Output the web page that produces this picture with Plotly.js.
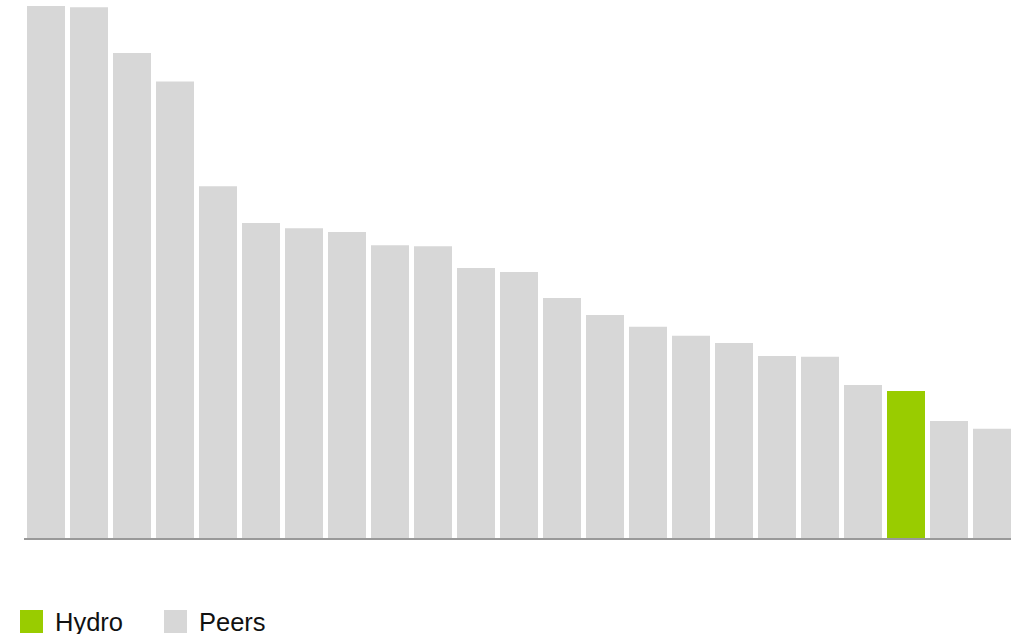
<!DOCTYPE html>
<html>
<head>
<meta charset="utf-8">
<script src="https://cdn.plot.ly/plotly-3.0.1.min.js"></script>
<style>
  html, body { margin: 0; padding: 0; background: #ffffff; }
  #chart { width: 1011px; height: 634px; }
</style>
</head>
<body>
<div id="chart"></div>
<script>
// Companies ranked by value, Hydro highlighted among its peers
const companies = [
  "Peer 1", "Peer 2", "Peer 3", "Peer 4", "Peer 5", "Peer 6", "Peer 7", "Peer 8",
  "Peer 9", "Peer 10", "Peer 11", "Peer 12", "Peer 13", "Peer 14", "Peer 15",
  "Peer 16", "Peer 17", "Peer 18", "Peer 19", "Peer 20", "Hydro", "Peer 21", "Peer 22"
];
const values = [
  532, 530.7, 485, 456.5, 351.7, 315, 309.7, 306, 292.7, 291.7, 270, 266,
  240, 223, 211.3, 202.3, 195, 182, 181.3, 153, 147, 117, 109.3
];
const highlight = "Hydro";
const legendLabels = ["Hydro", "Peers"];

const GREEN = "#99cc00";
const GREY = "#d7d7d7";

// Plot area in pixels
const W = 1011, H = 634;
const M = { l: 24, r: 0, t: 0, b: 96 };
const plotW = W - M.l - M.r;
const plotH = H - M.t - M.b;
const SLOT = 43;                              // pixels per category
const px = x => (x - M.l) / plotW;          // pixel x -> paper x
const py = y => (H - M.b - y) / plotH;      // pixel y -> paper y

const colors = companies.map(c => c === highlight ? GREEN : GREY);

const trace = {
  type: "bar",
  x: companies,
  y: values,
  marker: { color: colors, line: { width: 0 } },
  hoverinfo: "x+y",
  showlegend: false
};

// Legend drawn as swatches plus labels below the axis
const swatches = [
  { x: 20, color: GREEN, label: legendLabels[0], tx: 53 },
  { x: 164, color: GREY, label: legendLabels[1], tx: 197 }
];
const shapes = swatches.map(s => ({
  type: "rect", xref: "paper", yref: "paper",
  x0: px(s.x), x1: px(s.x + 23), y0: py(610), y1: py(633),
  fillcolor: s.color, line: { width: 0 }
}));
const annotations = swatches.map(s => ({
  xref: "paper", yref: "paper",
  x: px(s.tx), y: py(621.5), xanchor: "left", yanchor: "middle",
  text: s.label, showarrow: false,
  font: { family: "Liberation Sans, Arial, sans-serif", size: 25.5, color: "#111111" }
}));

const x0 = -0.5 - 0.5 / SLOT;

const layout = {
  width: W, height: H,
  margin: M,
  paper_bgcolor: "#ffffff",
  plot_bgcolor: "#ffffff",
  bargap: 5 / SLOT,
  showlegend: false,
  xaxis: {
    type: "category",
    range: [x0, x0 + plotW / SLOT],
    showticklabels: false, ticks: "",
    showgrid: false, zeroline: false,
    showline: true, linecolor: "#999999", linewidth: 2,
    fixedrange: true
  },
  yaxis: {
    range: [0, plotH],
    visible: false, showgrid: false, zeroline: false,
    fixedrange: true
  },
  shapes: shapes,
  annotations: annotations
};

Plotly.newPlot("chart", [trace], layout, { displayModeBar: false, staticPlot: true });
</script>
</body>
</html>
